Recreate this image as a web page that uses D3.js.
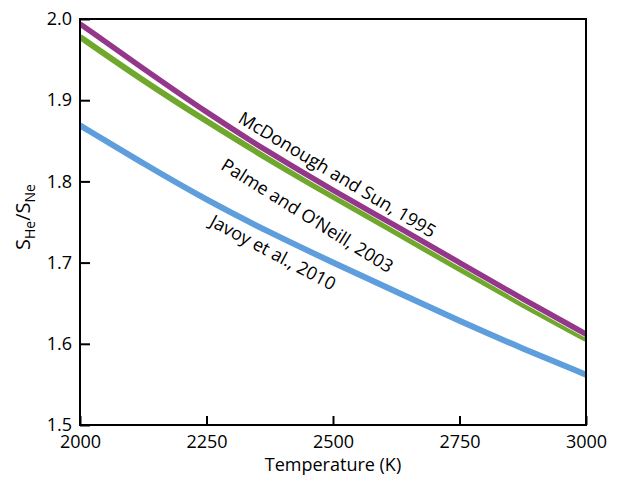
<!DOCTYPE html>
<html>
<head>
<meta charset="utf-8">
<script src="https://cdn.jsdelivr.net/npm/d3@7"></script>
<style>
body{margin:0;background:#fff;}
svg{display:block;font-family:"Open Sans",sans-serif;}
</style>
</head>
<body>
<svg id="chart" width="619" height="477"></svg>
<script>
const temperatures = [2000, 2125, 2250, 2375, 2500, 2625, 2750, 2875, 3000];
const mcdonough = [1.994, 1.939, 1.885, 1.835, 1.789, 1.745, 1.700, 1.655, 1.612];
const palme     = [1.978, 1.924, 1.874, 1.826, 1.781, 1.737, 1.692, 1.648, 1.606];
const javoy     = [1.869, 1.822, 1.777, 1.737, 1.700, 1.664, 1.628, 1.594, 1.562];
const xTicks = [2000, 2250, 2500, 2750, 3000];
const yTicks = [1.5, 1.6, 1.7, 1.8, 1.9, 2.0];
const seriesNames = ["McDonough and Sun, 1995", "Palme and O\u2019Neill, 2003", "Javoy et al., 2010"];

const W = 619, H = 477;
const m = {left: 80, right: 33, top: 19, bottom: 52};
const svg = d3.select("#chart");
const x = d3.scaleLinear().domain([2000, 3000]).range([m.left, W - m.right]);
const y = d3.scaleLinear().domain([1.5, 2.0]).range([H - m.bottom, m.top]);

const line = d3.line().x(d => x(d[0])).y(d => y(d[1])).curve(d3.curveBasis);
const pts = arr => temperatures.map((t, i) => [t, arr[i]]);

svg.append("defs").append("clipPath").attr("id", "clip")
  .append("rect").attr("x", m.left).attr("y", m.top)
  .attr("width", W - m.left - m.right).attr("height", H - m.top - m.bottom);

const g = svg.append("g").attr("clip-path", "url(#clip)");
g.append("path").attr("d", line(pts(javoy))).attr("fill", "none")
  .attr("stroke", "#5e9edd").attr("stroke-width", 6);
g.append("path").attr("d", line(pts(palme))).attr("fill", "none")
  .attr("stroke", "#6fa82c").attr("stroke-width", 6);
g.append("path").attr("d", line(pts(mcdonough))).attr("fill", "none")
  .attr("stroke", "#fff").attr("stroke-width", 7);
g.append("path").attr("d", line(pts(mcdonough))).attr("fill", "none")
  .attr("stroke", "#94378a").attr("stroke-width", 5.5);

// frame
svg.append("rect").attr("x", m.left).attr("y", m.top)
  .attr("width", W - m.left - m.right).attr("height", H - m.top - m.bottom)
  .attr("fill", "none").attr("stroke", "#000").attr("stroke-width", 2);

const xAxis = svg.append("g").attr("transform", `translate(0,${H - m.bottom})`)
  .call(d3.axisBottom(x).tickValues(xTicks).tickFormat(d3.format("d")).tickSizeInner(-9).tickSizeOuter(0).tickPadding(10));
xAxis.select(".domain").remove();
xAxis.selectAll("line").attr("stroke", "#000").attr("stroke-width", 2);
xAxis.selectAll("text").attr("font-size", 18).attr("font-family", "Open Sans").attr("fill", "#000");

const yAxis = svg.append("g").attr("transform", `translate(${m.left},0)`)
  .call(d3.axisLeft(y).tickValues(yTicks).tickFormat(d3.format(".1f")).tickSizeInner(-10).tickSizeOuter(0).tickPadding(8));
yAxis.select(".domain").remove();
yAxis.selectAll("line").attr("stroke", "#000").attr("stroke-width", 2);
yAxis.selectAll("text").attr("font-size", 18).attr("font-family", "Open Sans").attr("fill", "#000");

svg.append("text").attr("x", (m.left + W - m.right) / 2).attr("y", 471)
  .attr("text-anchor", "middle").attr("font-size", 18).text("Temperature (K)");

const yl = svg.append("text").attr("transform", "translate(30,217) rotate(-90)")
  .attr("text-anchor", "middle").attr("font-size", 20);
yl.append("tspan").text("S");
yl.append("tspan").attr("font-size", 14).attr("dy", 5).text("He");
yl.append("tspan").attr("dy", -5).text("/S");
yl.append("tspan").attr("font-size", 14).attr("dy", 5).text("Ne");

const lab = [
  {cx: 334, cy: 180, ang: 31},
  {cx: 304, cy: 221, ang: 32},
  {cx: 270, cy: 258, ang: 28}
];
lab.forEach((l, i) => {
  svg.append("text").attr("transform", `translate(${l.cx},${l.cy}) rotate(${l.ang})`)
    .attr("text-anchor", "middle").attr("font-size", 18).text(seriesNames[i]);
});
</script>
</body>
</html>
